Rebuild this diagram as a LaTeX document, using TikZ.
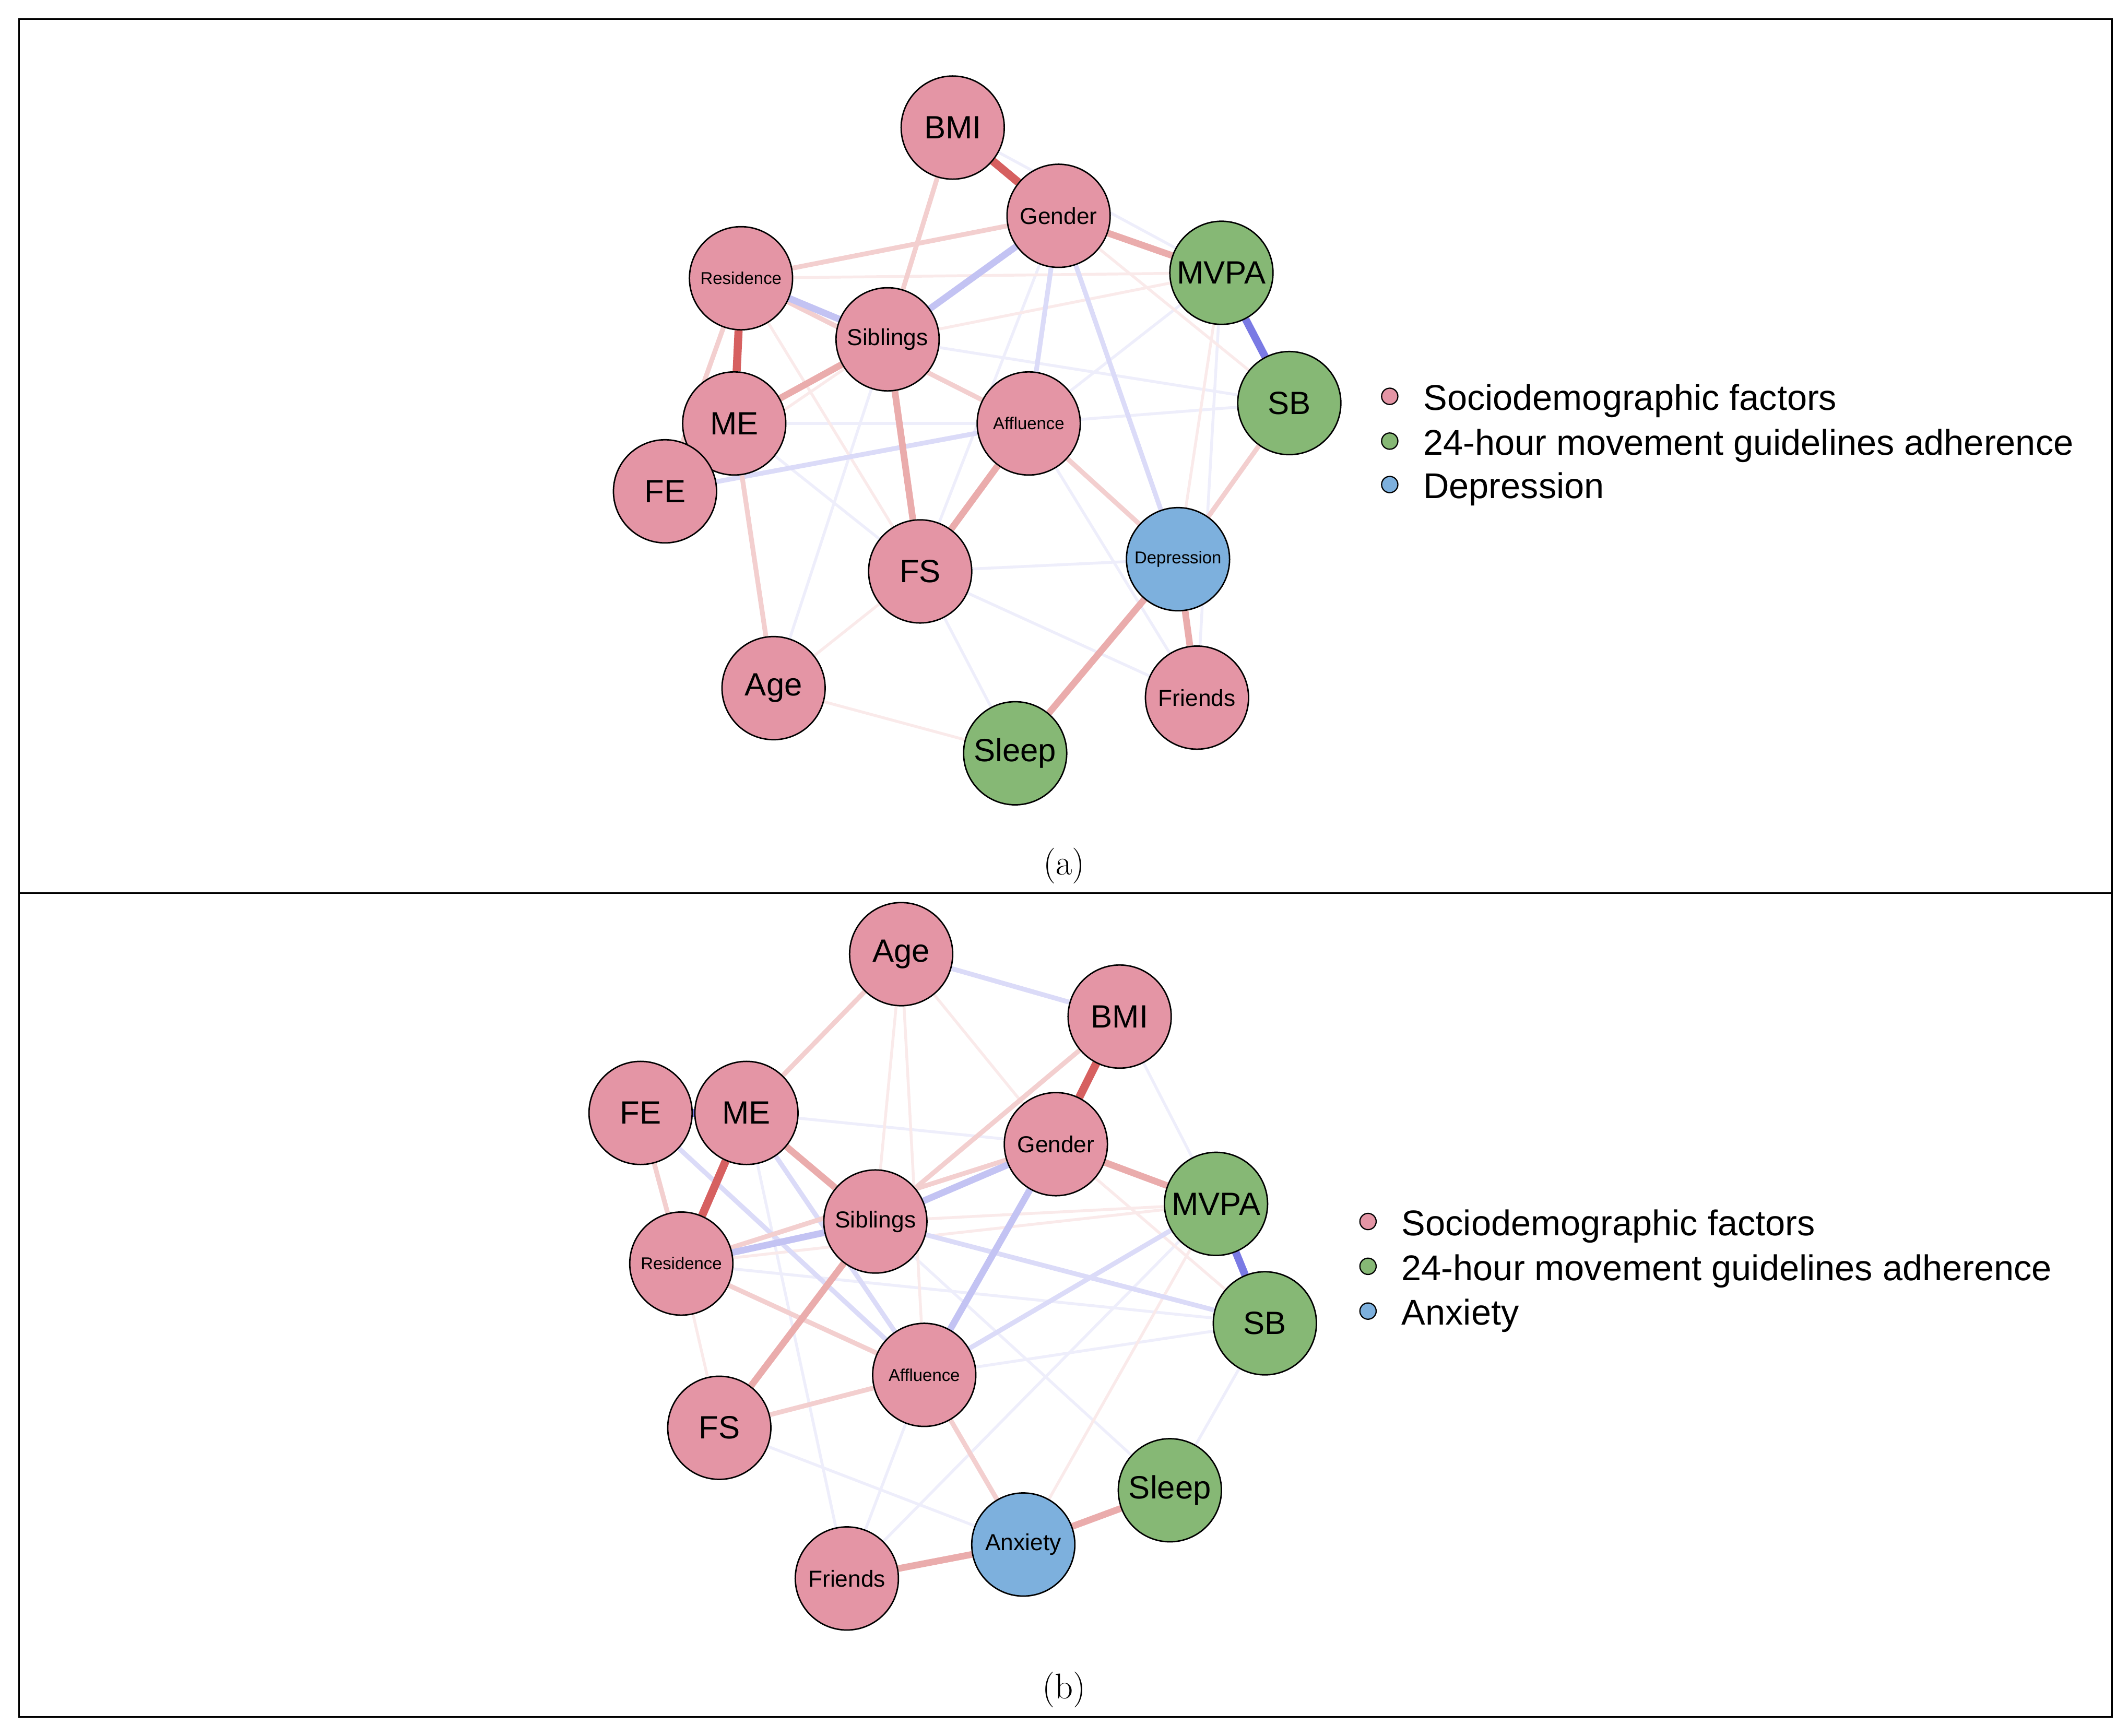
\documentclass[tikz,border=0pt]{standalone}
\usepackage{fontspec}
\newfontfamily\arialf{Liberation Sans}
\usetikzlibrary{positioning,backgrounds}

\definecolor{socfill}{HTML}{E495A5}
\definecolor{movfill}{HTML}{86B875}
\definecolor{depfill}{HTML}{7DB0DD}
\definecolor{posedge}{RGB}{214,96,96}
\definecolor{negedge}{RGB}{122,122,228}

\tikzset{
  var/.style={circle,draw=black,line width=0.6pt,minimum size=1.52cm,inner sep=0pt},
  soc/.style={var,fill=socfill},
  mov/.style={var,fill=movfill},
  dep/.style={var,fill=depfill},
  lblbig/.style={font=\arialf\fontsize{13.5}{16}\selectfont},
  lblmid/.style={font=\arialf\fontsize{9.7}{12}\selectfont},
  lblsmall/.style={font=\arialf\fontsize{7.2}{9}\selectfont},
  ps/.style={draw=posedge,line width=3.4pt},
  pm/.style={draw=posedge!52,line width=2.8pt},
  pl/.style={draw=posedge!30,line width=2pt},
  pf/.style={draw=posedge!13,line width=1.2pt},
  ns/.style={draw=negedge,line width=3.2pt},
  nm/.style={draw=negedge!45,line width=2.8pt},
  nl/.style={draw=negedge!27,line width=2pt},
  nf/.style={draw=negedge!13,line width=1.2pt},
  legdot/.style={circle,draw=black,line width=0.5pt,minimum size=0.24cm,inner sep=0pt},
  legtext/.style={inner sep=0pt,yshift=-0.07cm,font=\arialf\fontsize{15}{18}\selectfont},
  frame/.style={draw=black,line width=0.8pt},
  caption/.style={font=\fontsize{15}{18}\selectfont}
}

\begin{document}
\begin{tikzpicture}[x=0.02cm,y=-0.02cm]
  \useasboundingbox (0,0) rectangle (1568,1279);
  \draw[frame] (14,14) rectangle (1556,658);
  \draw[frame] (14,658) rectangle (1556,1265);

  % (a) depression network
  \path
    (702,94) node[soc,lblbig] (aBMI){BMI}
    (780,159) node[soc,lblmid] (aGender){Gender}
    (900,201) node[mov,lblbig] (aMVPA){MVPA}
    (546,205) node[soc,lblsmall] (aResidence){Residence}
    (654,250) node[soc,lblmid] (aSiblings){Siblings}
    (950,297) node[mov,lblbig] (aSB){SB}
    (541,312) node[soc,lblbig] (aME){ME}
    (758,312) node[soc,lblsmall] (aAffluence){Affluence}
    (490,362) node[soc,lblbig] (aFE){FE}
    (678,421) node[soc,lblbig] (aFS){FS}
    (868,412) node[dep,lblsmall] (aDepression){Depression}
    (570,507) node[soc,lblbig] (aAge){Age}
    (882,514) node[soc,lblmid] (aFriends){Friends}
    (748,555) node[mov,lblbig] (aSleep){Sleep};
  \begin{pgfonlayer}{background}
    \begin{scope}[nf]
      \draw (aBMI) -- (aMVPA);
      \draw (aSiblings) -- (aSB);
      \draw (aMVPA) -- (aAffluence);
      \draw (aME) -- (aAffluence);
      \draw (aAffluence) -- (aSB);
      \draw (aSiblings) -- (aAge);
      \draw (aME) -- (aFS);
      \draw (aFS) -- (aSleep);
      \draw (aFS) -- (aDepression);
      \draw (aFS) -- (aFriends);
      \draw (aAffluence) -- (aFriends);
      \draw (aMVPA) -- (aFriends);
      \draw (aGender) -- (aFS);
    \end{scope}
    \begin{scope}[pf]
      \draw (aResidence) -- (aMVPA);
      \draw (aSiblings) -- (aMVPA);
      \draw (aGender) -- (aSB);
      \draw (aMVPA) -- (aDepression);
      \draw (aResidence) -- (aFS);
      \draw (aAge) -- (aFS);
      \draw (aAge) -- (aSleep);
      \draw (aFE) -- (aSiblings);
    \end{scope}
    \begin{scope}[nl]
      \draw (aGender) -- (aAffluence);
      \draw (aGender) -- (aDepression);
      \draw (aFE) -- (aAffluence);
    \end{scope}
    \begin{scope}[pl]
      \draw (aResidence) -- (aAffluence);
      \draw (aAffluence) -- (aDepression);
      \draw (aSB) -- (aDepression);
      \draw (aME) -- (aAge);
      \draw (aResidence) -- (aFE);
      \draw (aGender) -- (aResidence);
      \draw (aBMI) -- (aSiblings);
    \end{scope}
    \begin{scope}[nm]
      \draw (aResidence) -- (aSiblings);
      \draw (aGender) -- (aSiblings);
    \end{scope}
    \begin{scope}[pm]
      \draw (aME) -- (aSiblings);
      \draw (aGender) -- (aMVPA);
      \draw (aSiblings) -- (aFS);
      \draw (aAffluence) -- (aFS);
      \draw (aDepression) -- (aSleep);
      \draw (aDepression) -- (aFriends);
    \end{scope}
    \draw[ns] (aMVPA) -- (aSB);
    \draw[ps] (aBMI) -- (aGender);
    \draw[ps] (aResidence) -- (aME);
  \end{pgfonlayer}

  \node[legdot,fill=socfill] (aKeySoc) at (1024,292) {};
  \node[legdot,fill=movfill] (aKeyMov) at (1024,325) {};
  \node[legdot,fill=depfill] (aKeyDep) at (1024,357) {};
  \node[legtext,right=0.36cm of aKeySoc] (aKeySocText) {Sociodemographic factors};
  \node[legtext,right=0.36cm of aKeyMov] (aKeyMovText) {24-hour movement guidelines adherence};
  \node[legtext,right=0.36cm of aKeyDep] (aKeyDepText) {Depression};
  \node[caption] (aCap) at (784,638) {(a)};

  % (b) anxiety network
  \path
    (664,703) node[soc,lblbig] (bAge){Age}
    (825,749) node[soc,lblbig] (bBMI){BMI}
    (472,820) node[soc,lblbig] (bFE){FE}
    (550,820) node[soc,lblbig] (bME){ME}
    (778,843) node[soc,lblmid] (bGender){Gender}
    (896,887) node[mov,lblbig] (bMVPA){MVPA}
    (645,900) node[soc,lblmid] (bSiblings){Siblings}
    (502,931) node[soc,lblsmall] (bResidence){Residence}
    (932,975) node[mov,lblbig] (bSB){SB}
    (681,1013) node[soc,lblsmall] (bAffluence){Affluence}
    (530,1052) node[soc,lblbig] (bFS){FS}
    (862,1098) node[mov,lblbig] (bSleep){Sleep}
    (754,1138) node[dep,lblmid] (bAnxiety){Anxiety}
    (624,1163) node[soc,lblmid] (bFriends){Friends};
  \begin{pgfonlayer}{background}
    \begin{scope}[nf]
      \draw (bBMI) -- (bMVPA);
      \draw (bME) -- (bGender);
      \draw (bResidence) -- (bSB);
      \draw (bAffluence) -- (bSB);
      \draw (bFS) -- (bAnxiety);
      \draw (bFriends) -- (bAffluence);
      \draw (bFriends) -- (bMVPA);
      \draw (bSleep) -- (bSiblings);
      \draw (bSleep) -- (bSB);
      \draw (bME) -- (bFriends);
    \end{scope}
    \begin{scope}[pf]
      \draw (bSiblings) -- (bMVPA);
      \draw (bResidence) -- (bMVPA);
      \draw (bGender) -- (bSB);
      \draw (bAnxiety) -- (bMVPA);
      \draw (bResidence) -- (bFS);
      \draw (bAge) -- (bSiblings);
      \draw (bAge) -- (bAffluence);
      \draw (bAge) -- (bGender);
    \end{scope}
    \begin{scope}[nl]
      \draw (bAge) -- (bBMI);
      \draw (bFE) -- (bAffluence);
      \draw (bME) -- (bAffluence);
      \draw (bSiblings) -- (bSB);
      \draw (bAffluence) -- (bMVPA);
    \end{scope}
    \begin{scope}[pl]
      \draw (bFE) -- (bResidence);
      \draw (bAge) -- (bME);
      \draw (bResidence) -- (bAffluence);
      \draw (bFS) -- (bAffluence);
      \draw (bAffluence) -- (bAnxiety);
      \draw (bBMI) -- (bSiblings);
      \draw (bResidence) -- (bGender);
    \end{scope}
    \begin{scope}[nm]
      \draw (bSiblings) -- (bGender);
      \draw (bResidence) -- (bSiblings);
      \draw (bGender) -- (bAffluence);
    \end{scope}
    \begin{scope}[pm]
      \draw (bME) -- (bSiblings);
      \draw (bGender) -- (bMVPA);
      \draw (bSiblings) -- (bFS);
      \draw (bAnxiety) -- (bFriends);
      \draw (bAnxiety) -- (bSleep);
    \end{scope}
    \draw[ns] (bMVPA) -- (bSB);
    \draw[ns] (bFE) -- (bME);
    \draw[ps] (bBMI) -- (bGender);
    \draw[ps] (bME) -- (bResidence);
  \end{pgfonlayer}

  \node[legdot,fill=socfill] (bKeySoc) at (1008,900) {};
  \node[legdot,fill=movfill] (bKeyMov) at (1008,933) {};
  \node[legdot,fill=depfill] (bKeyAnx) at (1008,966) {};
  \node[legtext,right=0.36cm of bKeySoc] (bKeySocText) {Sociodemographic factors};
  \node[legtext,right=0.36cm of bKeyMov] (bKeyMovText) {24-hour movement guidelines adherence};
  \node[legtext,right=0.36cm of bKeyAnx] (bKeyAnxText) {Anxiety};
  \node[caption] (bCap) at (784,1245) {(b)};
\end{tikzpicture}
\end{document}
